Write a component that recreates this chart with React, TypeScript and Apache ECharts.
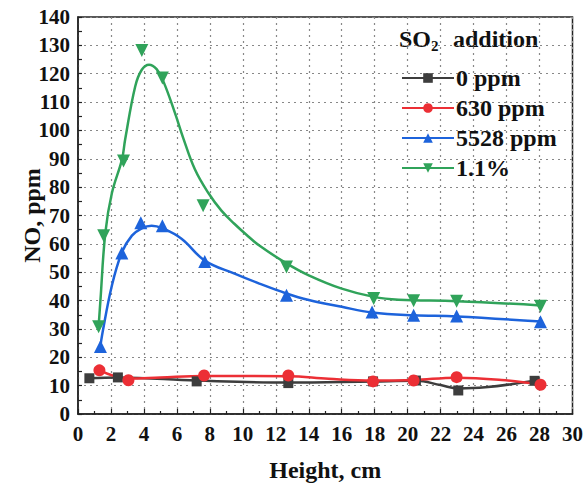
import React, { useEffect, useRef } from "react";
import * as echarts from "echarts";

const seriesNames = ["0 ppm", "630 ppm", "5528 ppm", "1.1%"];
const colors = ["#3d3d3d", "#ec2f35", "#1d63db", "#30a35a"];
const symbols = ["rect", "circle", "triangle", "triangle"];
const symbolRotates = [0, 0, 0, 180];
const symbolSizes = [10, 12, 13, 13];

// measured points
const blackPts = [[0.69, 12.6], [2.42, 12.9], [7.2, 11.5], [12.76, 10.9], [17.9, 11.5], [20.5, 11.8], [23.07, 8.3], [27.7, 11.7]];
const redPts = [[1.3, 15.4], [3.06, 11.9], [7.65, 13.6], [12.76, 13.6], [17.9, 11.5], [20.36, 11.8], [22.97, 13.0], [28.06, 10.3]];
const bluePts = [[1.36, 23.8], [2.66, 56.8], [3.81, 67.4], [5.12, 66.4], [7.69, 53.8], [12.65, 41.9], [17.84, 36.0], [20.36, 34.8], [22.97, 34.6], [28.06, 32.5]];
const greenPts = [[1.25, 30.8], [1.56, 62.9], [2.76, 89.2], [3.87, 128.2], [5.12, 118.5], [7.59, 73.4], [12.65, 51.8], [17.94, 40.7], [20.36, 39.9], [22.97, 39.8], [28.06, 38.0]];

// fitted curves
const blackCurve = [[0.69, 12.6], [2.42, 12.9], [7.2, 11.8], [12.76, 11.1], [17.9, 11.5], [20.5, 11.7], [22, 10.2], [23.07, 9.0], [24.7, 9.4], [27.7, 11.7]];
const redCurve = [[1.3, 15.4], [2.2, 13.4], [3.06, 12.5], [5, 12.9], [7.65, 13.4], [12.76, 13.3], [15.2, 12.4], [17.9, 11.8], [20.36, 12.0], [22.97, 12.8], [25.7, 12.0], [28.06, 10.4]];
const blueCurve = [[1.36, 23.8], [1.46, 27.8], [2.06, 45.4], [2.67, 57.1], [3.27, 62.9], [3.87, 65.5], [4.47, 66.4], [5.12, 65.5], [6.28, 61.8], [7.69, 54.1], [9.5, 49.5], [11, 46.0], [12.6, 42.6], [14, 40.2], [16, 37.8], [17.84, 35.8], [20.36, 34.8], [22.97, 34.4], [28.06, 32.6]];
const greenCurve = [[1.25, 30.8], [1.36, 40], [1.66, 64], [2.06, 78], [2.67, 89.8], [2.86, 96.8], [3.47, 115.5], [3.87, 121.4], [4.31, 123.2], [4.77, 121.6], [5.18, 117.3], [5.88, 106.2], [6.38, 97.4], [7.09, 86.3], [7.89, 78.1], [8.7, 71.7], [9.5, 67], [10.2, 63.3], [11, 59.4], [12.6, 53.3], [14, 48.9], [16, 44.2], [17.94, 41.3], [19.45, 40.3], [23, 39.8], [28.06, 38.3]];

const allPts = [blackPts, redPts, bluePts, greenPts];
const allCurves = [blackCurve, redCurve, blueCurve, greenCurve];

const FONT = "'Liberation Serif', 'Times New Roman', serif";

export default function App() {
  const ref = useRef<HTMLDivElement>(null);
  useEffect(() => {
    if (!ref.current) return;
    const chart = echarts.init(ref.current, null, { renderer: "svg" });
    const lineSeries = allCurves.map((c, i) => ({
      name: seriesNames[i],
      type: "line",
      data: c,
      smooth: 0.4,
      showSymbol: false,
      symbol: symbols[i],
      symbolRotate: symbolRotates[i],
      symbolSize: symbolSizes[i],
      lineStyle: { color: colors[i], width: 2.5 },
      itemStyle: { color: colors[i] },
      z: 3,
    }));
    const markerSeries = allPts.map((p, i) => ({
      name: "m" + i,
      type: "scatter",
      data: p,
      symbol: symbols[i],
      symbolRotate: symbolRotates[i],
      symbolSize: symbolSizes[i],
      itemStyle: { color: colors[i], opacity: 1 },
      z: 4,
    }));
    chart.setOption({
      animation: false,
      grid: {
        left: 78,
        right: 11,
        top: 17,
        bottom: 72,
        show: true,
        borderColor: "#222",
        borderWidth: 1.5,
        backgroundColor: "transparent",
      },
      xAxis: {
        type: "value",
        min: 0,
        max: 30,
        interval: 2,
        name: "Height, cm",
        nameLocation: "middle",
        nameGap: 44,
        nameMoveOverlap: false,
        nameTextStyle: { fontFamily: FONT, fontWeight: "bold", fontSize: 24, color: "#111" },
        axisLine: { show: true, lineStyle: { color: "#222", width: 1.5 } },
        axisTick: { show: true, inside: true, length: 5, lineStyle: { color: "#222", width: 1.2 } },
        minorTick: { show: true, splitNumber: 2, length: 3, lineStyle: { color: "#222", width: 1.2 } },
        axisLabel: { fontFamily: FONT, fontWeight: "bold", fontSize: 21, color: "#111", margin: 9 },
        splitLine: { show: true, lineStyle: { color: "#888", type: [2, 4], width: 1.2 } },
      },
      yAxis: {
        type: "value",
        min: 0,
        max: 140,
        interval: 10,
        name: "NO, ppm",
        nameLocation: "middle",
        nameGap: 34,
        nameRotate: 90,
        nameMoveOverlap: false,
        nameTextStyle: { fontFamily: FONT, fontWeight: "bold", fontSize: 24, color: "#111" },
        axisLine: { show: true, lineStyle: { color: "#222", width: 1.5 } },
        axisTick: { show: true, inside: true, length: 4, lineStyle: { color: "#222", width: 1.2 } },
        minorTick: { show: true, splitNumber: 2, length: 4, lineStyle: { color: "#222", width: 1.2 } },
        axisLabel: { fontFamily: FONT, fontWeight: "bold", fontSize: 21, color: "#111", margin: 8 },
        splitLine: { show: true, lineStyle: { color: "#888", type: [2, 4], width: 1.2 } },
      },
      legend: {
        data: seriesNames,
        orient: "vertical",
        left: 396,
        top: 61,
        itemWidth: 52,
        itemHeight: 12,
        itemGap: 6,
        textStyle: { fontFamily: FONT, fontWeight: "bold", fontSize: 24, color: "#111", padding: [0, 0, 0, -3] },
      },
      graphic: [
        {
          type: "group",
          left: 399,
          top: 27,
          children: [
            { type: "text", x: 0, y: 0, style: { text: "SO", fontFamily: FONT, fontWeight: "bold", fontSize: 24, fill: "#111" } },
            { type: "text", x: 32, y: 11, style: { text: "2", fontFamily: FONT, fontWeight: "bold", fontSize: 15, fill: "#111" } },
            { type: "text", x: 54, y: 0, style: { text: "addition", fontFamily: FONT, fontWeight: "bold", fontSize: 24, fill: "#111" } },
          ],
        },
      ],
      series: [...lineSeries, ...markerSeries],
    });
    return () => chart.dispose();
  }, []);
  return <div ref={ref} style={{ width: 586, height: 487, position: "absolute", left: 0, top: 0, background: "#fff" }} />;
}
